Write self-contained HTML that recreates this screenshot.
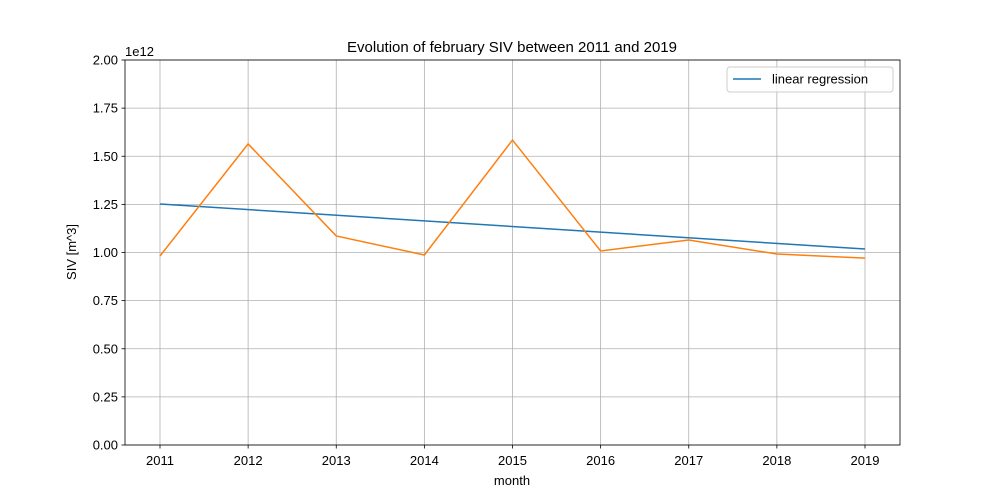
<!DOCTYPE html>
<html><head><meta charset="utf-8"><style>
body{margin:0;background:#fff}
svg{display:block;font-family:"Liberation Sans","DejaVu Sans",sans-serif}
</style></head><body>
<svg id="chart" width="1000" height="500">
<rect width="1000" height="500" fill="#fff"/>
<g id="grid"></g><g id="series"></g><g id="axes"></g>
</svg>
<script>
const years=[2011,2012,2013,2014,2015,2016,2017,2018,2019];
const sivValues=[0.982,1.564,1.086,0.987,1.584,1.008,1.065,0.992,0.971];
const regYears=[2011,2019];
const regValues=[1.252,1.018];
const yTicks=[0,0.25,0.5,0.75,1.0,1.25,1.5,1.75,2.0];
const yTickLabels=["0.00","0.25","0.50","0.75","1.00","1.25","1.50","1.75","2.00"];
const NS="http://www.w3.org/2000/svg";
const L=125,R=900,T=60,B=445;
const xs=y=>160+(y-2011)*(865-160)/8;
const ys=v=>B-v*(B-T)/2;
function mk(tag,attrs,parent,text){const e=document.createElementNS(NS,tag);for(const k in attrs)e.setAttribute(k,attrs[k]);if(text!==undefined)e.textContent=text;document.getElementById(parent).appendChild(e);return e;}
years.forEach(y=>{
 const g=mk('line',{x1:xs(y),x2:xs(y),y1:T,y2:B,stroke:'#b0b0b0','stroke-width':0.8},'grid');
 
 
 const t=mk('line',{x1:xs(y),x2:xs(y),y1:B,y2:B+3.5,stroke:'#000','stroke-width':0.8},'axes');
 
 
 const l=mk('text',{x:xs(y),y:B+20,'text-anchor':'middle','font-size':13},'axes',y);
 
 
});
yTicks.forEach((v,i)=>{
 const g=mk('line',{x1:L,x2:R,y1:ys(v),y2:ys(v),stroke:'#b0b0b0','stroke-width':0.8},'grid');
 
 
 const t=mk('line',{x1:L-3.5,x2:L,y1:ys(v),y2:ys(v),stroke:'#000','stroke-width':0.8},'axes');
 
 
 const l=mk('text',{x:L-7,y:ys(v)+4.5,'text-anchor':'end','font-size':13},'axes',yTickLabels[i]);
 
 
});
const reg=mk('polyline',{points:regYears.map((y,i)=>xs(y)+','+ys(regValues[i])).join(' '),fill:'none',stroke:'#1f77b4','stroke-width':1.5},'series');


const siv=mk('polyline',{points:years.map((y,i)=>xs(y)+','+ys(sivValues[i])).join(' '),fill:'none',stroke:'#ff7f0e','stroke-width':1.5},'series');


const fr=mk('rect',{x:L,y:T,width:R-L,height:B-T,fill:'none',stroke:'#000','stroke-width':0.8},'axes');


const ti=mk('text',{x:512,y:52,'text-anchor':'middle','font-size':15},'axes','Evolution of february SIV between 2011 and 2019');


const ex=mk('text',{x:125,y:56,'font-size':13},'axes','1e12');


const xt=mk('text',{x:512,y:485,'text-anchor':'middle','font-size':13},'axes','month');


const yt=mk('text',{x:0,y:0,'text-anchor':'middle','font-size':13,transform:'translate(76,252) rotate(-90)'},'axes','SIV [m^3]');


const lb=mk('rect',{x:727,y:67,width:166,height:25,rx:3,fill:'#fff','fill-opacity':0.8,stroke:'#ccc','stroke-width':1},'axes');


const ll=mk('line',{x1:733,x2:761,y1:79,y2:79,stroke:'#1f77b4','stroke-width':1.5},'axes');


const lt=mk('text',{x:772,y:83.5,'font-size':13},'axes','linear regression');


</script>
</body></html>
